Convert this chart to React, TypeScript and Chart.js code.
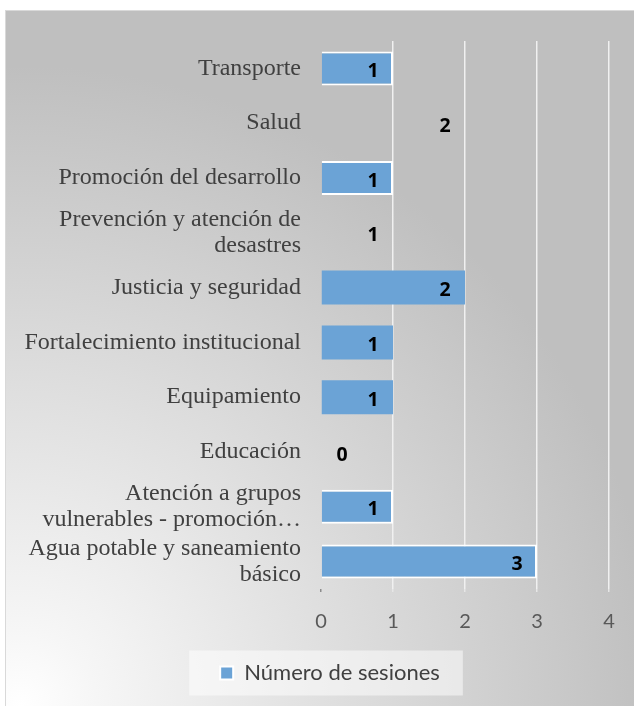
import React, { useEffect, useRef } from 'react';
import { Chart, registerables } from 'chart.js';

Chart.register(...registerables);

// ---- data ----
const categories: (string | string[])[] = [
  'Transporte',
  'Salud',
  'Promoción del desarrollo',
  ['Prevención y atención de', 'desastres'],
  'Justicia y seguridad',
  'Fortalecimiento institucional',
  'Equipamiento',
  'Educación',
  ['Atención a grupos', 'vulnerables - promoción…'],
  ['Agua potable y saneamiento', 'básico'],
];
const sessions = [1, 2, 1, 1, 2, 1, 1, 0, 1, 3];
const seriesName = 'Número de sesiones';
const xMin = 0;
const xMax = 4;
const xStep = 1;

// ---- styles (kept apart from the data) ----
const BLUE = '#6ba3d6';
const invisibleBars = [false, true, false, true, false, false, false, false, false, false];
const outlinedBars = [true, false, true, false, false, false, false, false, true, true];

const W = 634;
const H = 706;
const LEGEND_SHIFT = 23;

const backgroundPlugin = {
  id: 'bgPlugin',
  afterLayout(chart: any) {
    const lg = chart.legend;
    if (lg) {
      lg.left += LEGEND_SHIFT;
      lg.right += LEGEND_SHIFT;
    }
  },
  beforeDraw(chart: any) {
    const { ctx } = chart;
    ctx.save();
    ctx.fillStyle = '#ffffff';
    ctx.fillRect(0, 0, W, H);
    const g = ctx.createRadialGradient(20, H, 0, 20, H, 640);
    g.addColorStop(0, '#ffffff');
    g.addColorStop(0.12, '#f6f6f6');
    g.addColorStop(1, '#bfbfbf');
    ctx.fillStyle = g;
    ctx.fillRect(5, 10, W - 5, H - 10);
    ctx.strokeStyle = '#d9d9d9';
    ctx.lineWidth = 1;
    ctx.strokeRect(5.5, 10.5, W, H);

    // legend background box
    const lg = chart.legend;
    if (lg) {
      const lo = lg.options.labels;
      const fs = lo.font.size;
      ctx.font = `${fs}px ${lo.font.family}`;
      const tw = ctx.measureText(seriesName).width;
      const itemW = lo.boxWidth + fs / 2 + tw;
      const cx = (lg.left + lg.right) / 2;
      const cy = lg.top + lo.padding + fs / 2;
      const left = cx - itemW / 2 - 31;
      const right = cx + itemW / 2 + 23;
      ctx.fillStyle = 'rgba(255,255,255,0.5)';
      ctx.fillRect(left, cy - 22.5, right - left, 45);
    }
    ctx.restore();
  },
};

const dataLabelPlugin = {
  id: 'dataLabels',
  afterDatasetsDraw(chart: any) {
    const { ctx } = chart;
    const meta = chart.getDatasetMeta(0);
    const vals = chart.data.datasets[0].data as number[];
    ctx.save();
    ctx.font = 'bold 19.5px "Open Sans"';
    ctx.fillStyle = '#000000';
    ctx.textAlign = 'center';
    ctx.textBaseline = 'middle';
    meta.data.forEach((bar: any, i: number) => {
      const v = vals[i];
      const x = v > 0 ? bar.x - 20 : bar.x + 21;
      ctx.fillText(String(v), x, bar.y + 3);
    });
    ctx.restore();
  },
};

export default function App() {
  const ref = useRef<HTMLCanvasElement | null>(null);

  useEffect(() => {
    if (!ref.current) return;
    const chart = new Chart(ref.current, {
      type: 'bar',
      data: {
        labels: categories,
        datasets: [
          {
            label: seriesName,
            data: sessions,
            backgroundColor: invisibleBars.map((h) => (h ? 'rgba(0,0,0,0)' : BLUE)),
            borderColor: '#ffffff',
            borderWidth: outlinedBars.map((o) => (o ? 2 : 0)),
            barPercentage: 0.62,
            categoryPercentage: 1,
          },
        ],
      },
      options: {
        indexAxis: 'y',
        responsive: false,
        animation: false,
        layout: { padding: { left: 5, right: 25, top: 41, bottom: 12 } },
        plugins: {
          legend: {
            position: 'bottom',
            labels: {
              boxWidth: 13,
              boxHeight: 13,
              padding: 10,
              color: '#404040',
              font: { family: 'Lato', size: 22 },
            },
          },
          tooltip: { enabled: false },
        },
        scales: {
          x: {
            min: xMin,
            max: xMax,
            border: { display: false },
            grid: {
              color: (c: any) => (c.tick && c.tick.value === 0 ? 'rgba(0,0,0,0)' : '#f0f0f0'),
              tickColor: (c: any) => (c.tick && c.tick.value === 0 ? '#8c8c8c' : '#e6e6e6'),
              lineWidth: 1.5,
              tickLength: 3,
            },
            ticks: {
              stepSize: xStep,
              padding: 18,
              color: '#595959',
              font: { family: 'Lato', size: 20 },
            },
            afterFit: (s: any) => {
              s.height = 63;
            },
          },
          y: {
            border: { display: false },
            grid: { display: true, color: 'rgba(0,0,0,0)', drawTicks: true, tickLength: 6, tickColor: 'rgba(0,0,0,0)' },
            ticks: {
              padding: 14,
              color: '#404040',
              font: { family: 'Liberation Serif', size: 24, lineHeight: 1.08 },
              autoSkip: false,
            },
            afterFit: (s: any) => {
              s.width = 316;
            },
          },
        },
      },
      plugins: [backgroundPlugin, dataLabelPlugin],
    });
    return () => chart.destroy();
  }, []);

  return (
    <div style={{ position: 'absolute', left: 0, top: 0, width: W, height: H }}>
      <canvas ref={ref} width={W} height={H} style={{ display: 'block' }} />
    </div>
  );
}
